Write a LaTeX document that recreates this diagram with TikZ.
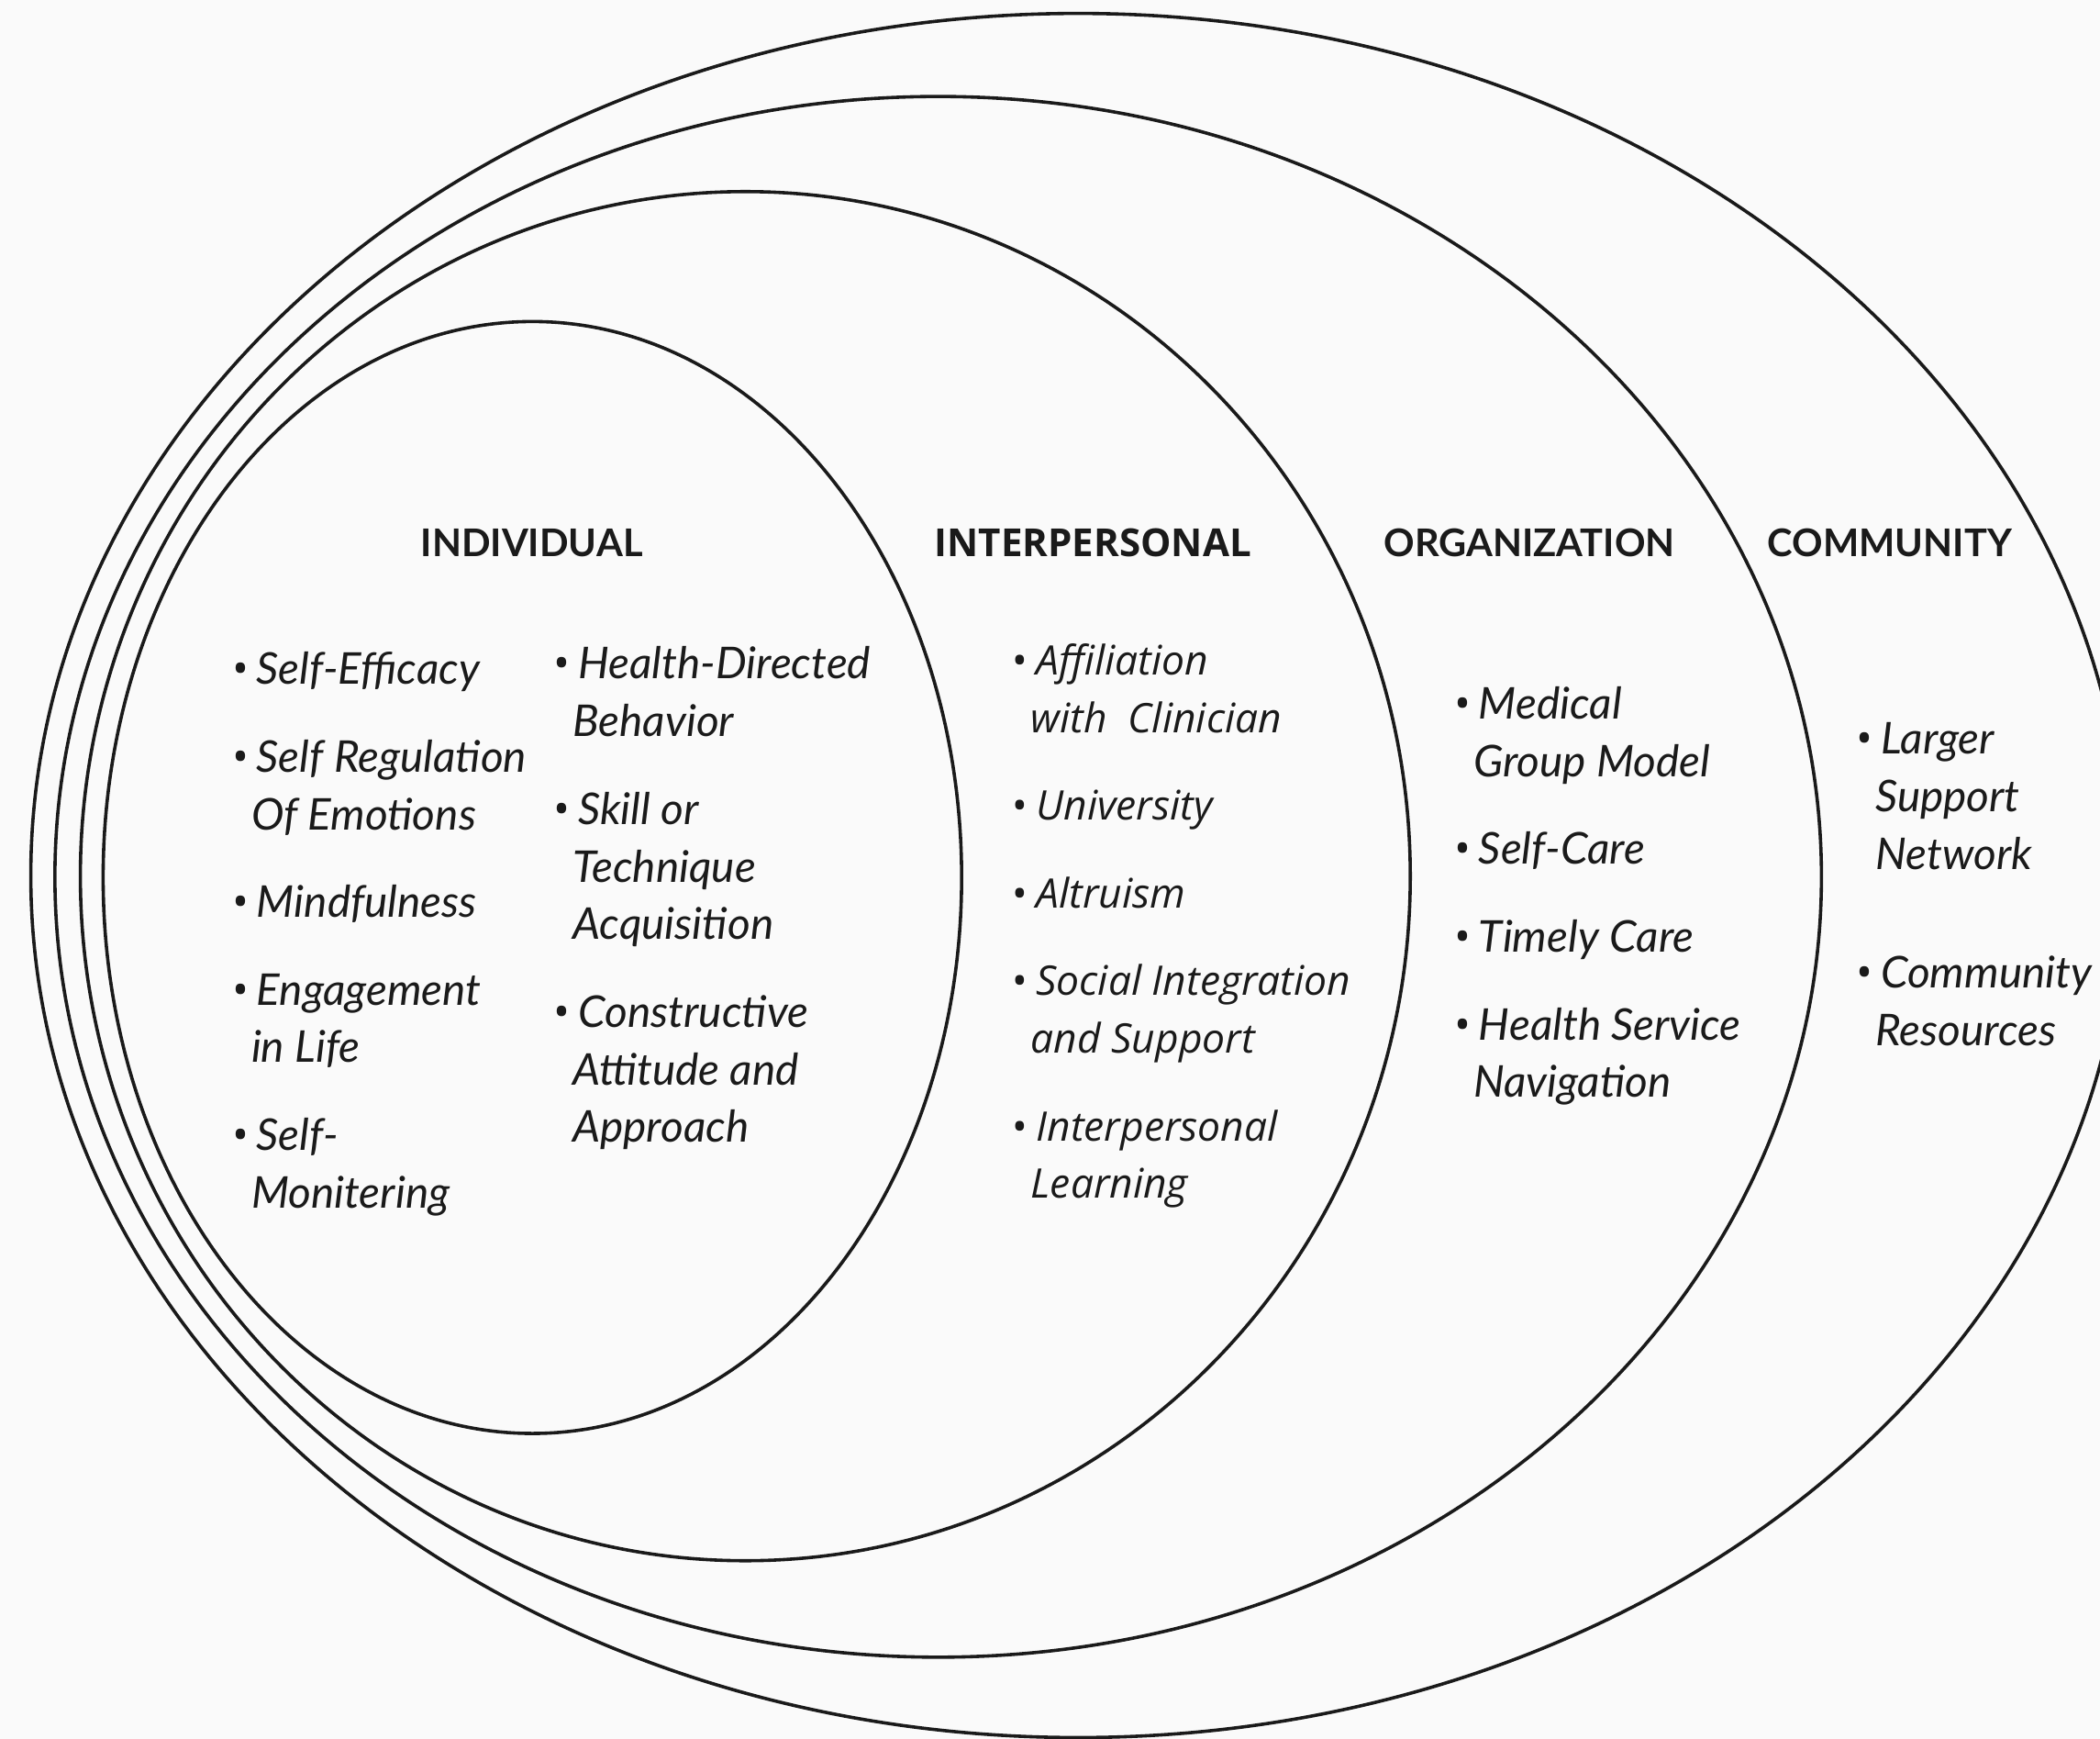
\documentclass[tikz,border=0pt]{standalone}
\usepackage{fontspec}
\setmainfont{Lato}
\newfontfamily\opensans{Open Sans}
\usetikzlibrary{positioning}
\definecolor{ink}{RGB}{26,26,26}
\definecolor{paper}{RGB}{250,250,250}
\newcommand{\bul}{\strut\makebox[0.18cm][l]{\opensans\upshape\textbullet}}
\newcommand{\nxt}{\strut\\\hspace*{0.14cm}\strut}
\tikzset{
	ring/.style = {draw=ink, line width=0.7pt},
	head/.style = {font=\fontsize{8.1}{11}\selectfont\bfseries, text=ink, anchor=base, inner sep=0pt},
	item/.style = {font=\fontsize{9.3}{12.24}\selectfont\itshape, text=ink, align=left, inner sep=0pt, anchor=north west},
	itemB/.style = {item, font=\fontsize{8.65}{12.24}\selectfont\opensans\itshape},
	under/.style = {below=of #1.south west, anchor=north west}
}

\begin{document}
\begin{tikzpicture}[node distance=0.21cm]
	\fill[paper] (0,0) rectangle (15.68,-12.98);
	\clip (0,0) rectangle (15.68,-12.98);
	
	% Ringe von innen nach aussen
	\draw[ring] (3.975,-6.55) ellipse [x radius=3.205, y radius=4.15];
	\draw[ring] (5.565,-6.54) ellipse [x radius=4.965, y radius=5.11];
	\draw[ring] (7.005,-6.545) ellipse [x radius=6.595, y radius=5.825];
	\draw[ring] (8.05,-6.535) ellipse [x radius=7.82, y radius=6.435];
	
	% Ueberschriften
	\node[head] (hI) at (3.97,-4.155) {INDIVIDUAL};
	\node[head, font=\fontsize{8.2}{11}\selectfont\opensans\bfseries] (hP) at (8.16,-4.155) {INTERPERSONAL};
	\node[head] (hO) at (11.42,-4.155) {ORGANIZATION};
	\node[head] (hC) at (14.11,-4.155) {COMMUNITY};
	
	% Individual, linke Spalte
	\node[item] (IL1) at (1.73,-4.80) {\bul Self-Efficacy\strut};
	\node[item, under=IL1] (IL2) {\bul Self Regulation\nxt Of Emotions};
	\node[item, under=IL2] (IL3) {\bul Mindfulness\strut};
	\node[item, under=IL3] (IL4) {\bul Engagement\nxt in Life};
	\node[item, under=IL4] (IL5) {\bul Self-\nxt Monitering};
	
	% Individual, rechte Spalte
	\node[item] (IR1) at (4.13,-4.76) {\bul Health-Directed\nxt Behavior};
	\node[item, under=IR1] (IR2) {\bul Skill or\nxt Technique\nxt Acquisition};
	\node[item, under=IR2] (IR3) {\bul Constructive\nxt Attitude and\nxt Approach};
	
	% Interpersonal
	\node[itemB] (P1) at (7.55,-4.73) {\bul Affiliation\nxt with\ \ Clinician};
	\node[itemB, under=P1] (P2) {\bul University\strut};
	\node[itemB, under=P2] (P3) {\bul Altruism\strut};
	\node[itemB, under=P3] (P4) {\bul Social Integration\nxt and Support};
	\node[itemB, under=P4] (P5) {\bul Interpersonal\nxt Learning};
	
	% Organization
	\node[item] (O1) at (10.855,-5.06) {\bul Medical\nxt Group Model};
	\node[item, under=O1] (O2) {\bul Self-Care\strut};
	\node[item, under=O2] (O3) {\bul Timely Care\strut};
	\node[item, under=O3] (O4) {\bul Health Service\nxt Navigation};
	
	% Community
	\node[item] (C1) at (13.856,-5.32) {\bul Larger\nxt Support\nxt Network};
	\node[item, below=0.44cm of C1.south west, anchor=north west] (C2) {\bul Community\nxt Resources};
\end{tikzpicture}
\end{document}
